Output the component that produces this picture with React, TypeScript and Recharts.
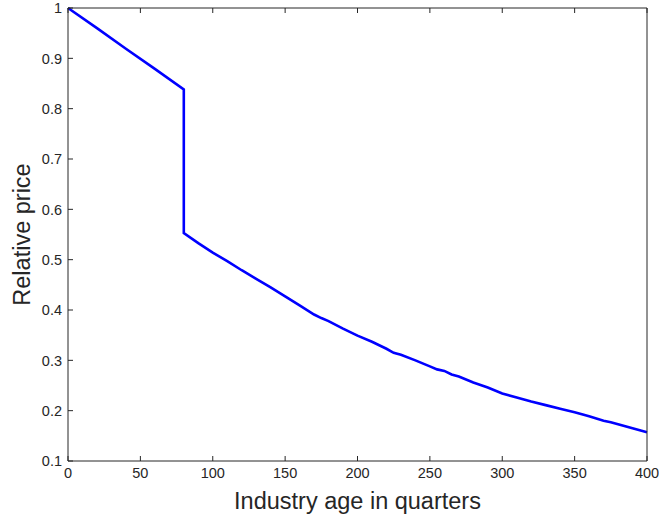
import React from 'react';
import { LineChart, Line, XAxis, YAxis, Label } from 'recharts';

// industry age (quarters) and relative price
const ages = [
  0, 20, 40, 60, 80, 80, 90, 100, 110, 120, 130, 140, 150, 160, 170, 175, 180,
  190, 200, 210, 220, 225, 230, 240, 250, 255, 260, 265, 270, 280, 283, 290,
  300, 310, 320, 330, 340, 350, 360, 370, 375, 380, 390, 400,
];
const prices = [
  1.0, 0.96, 0.919, 0.879, 0.838, 0.553, 0.533, 0.514, 0.497, 0.479, 0.462,
  0.445, 0.427, 0.409, 0.391, 0.384, 0.378, 0.363, 0.349, 0.337, 0.323, 0.315,
  0.311, 0.3, 0.288, 0.282, 0.279, 0.272, 0.268, 0.256, 0.253, 0.246, 0.234,
  0.226, 0.218, 0.211, 0.204, 0.197, 0.189, 0.18, 0.177, 0.173, 0.165, 0.157,
];
const xTicks = [0, 50, 100, 150, 200, 250, 300, 350, 400];
const yTicks = [0.1, 0.2, 0.3, 0.4, 0.5, 0.6, 0.7, 0.8, 0.9, 1];

const data = ages.map((age, i) => ({ age, price: prices[i] }));

const FONT = '"Liberation Sans", Arial, Helvetica, sans-serif';
const INK = '#262626';
const TICK_LEN = 5;
const fmtY = (v: number) => String(Number(v.toFixed(1)));

const BottomTick = (props: any) => {
  const { x, y, payload } = props;
  const axisY = y - 6;
  return (
    <g>
      <line x1={x} y1={axisY} x2={x} y2={axisY - TICK_LEN} stroke={INK} />
      <text x={x} y={y} dy="0.75em" textAnchor="middle" fill={INK} fontSize={14.5} fontFamily={FONT}>
        {payload.value}
      </text>
    </g>
  );
};

const LeftTick = (props: any) => {
  const { x, y, payload } = props;
  const axisX = x + 6;
  return (
    <g>
      <line x1={axisX} y1={y} x2={axisX + TICK_LEN} y2={y} stroke={INK} />
      <text x={x} y={y} dy="0.36em" textAnchor="end" fill={INK} fontSize={14.5} fontFamily={FONT}>
        {fmtY(payload.value)}
      </text>
    </g>
  );
};

const TopTick = (props: any) => {
  const { x, y } = props;
  return <line x1={x} y1={y} x2={x} y2={y + TICK_LEN} stroke={INK} />;
};

const RightTick = (props: any) => {
  const { x, y } = props;
  return <line x1={x} y1={y} x2={x - TICK_LEN} y2={y} stroke={INK} />;
};

export default function App() {
  return (
    <div style={{ position: 'absolute', left: 0, top: 0, background: '#fff' }}>
      <LineChart width={659} height={520} data={data} margin={{ top: 7, right: 11, bottom: 0, left: 0 }}>
        <XAxis
          dataKey="age"
          type="number"
          domain={[0, 400]}
          ticks={xTicks}
          height={59}
          tickSize={0}
          tickMargin={6}
          tick={<BottomTick />}
          axisLine={{ stroke: INK }}
          interval={0}
        >
          <Label
            value="Industry age in quarters"
            position="insideBottom"
            offset={11}
            style={{ fontSize: 23.5, fontFamily: FONT, fill: INK }}
          />
        </XAxis>
        <XAxis
          xAxisId="top"
          orientation="top"
          dataKey="age"
          type="number"
          domain={[0, 400]}
          ticks={xTicks}
          height={1}
          tickSize={0}
          tickMargin={0}
          tick={<TopTick />}
          axisLine={{ stroke: INK }}
          interval={0}
        />
        <YAxis
          type="number"
          domain={[0.1, 1]}
          ticks={yTicks}
          width={68}
          tickSize={0}
          tickMargin={6}
          tick={<LeftTick />}
          axisLine={{ stroke: INK }}
          interval={0}
        >
          <Label
            value="Relative price"
            angle={-90}
            position="insideLeft"
            offset={22}
            style={{ fontSize: 23.5, fontFamily: FONT, fill: INK, textAnchor: 'middle' }}
          />
        </YAxis>
        <YAxis
          yAxisId="right"
          orientation="right"
          type="number"
          domain={[0.1, 1]}
          ticks={yTicks}
          width={1}
          tickSize={0}
          tickMargin={0}
          tick={<RightTick />}
          axisLine={{ stroke: INK }}
          interval={0}
        />
        <Line
          dataKey="price"
          type="linear"
          stroke="#0000ff"
          strokeWidth={2.6}
          dot={false}
          isAnimationActive={false}
        />
      </LineChart>
    </div>
  );
}
